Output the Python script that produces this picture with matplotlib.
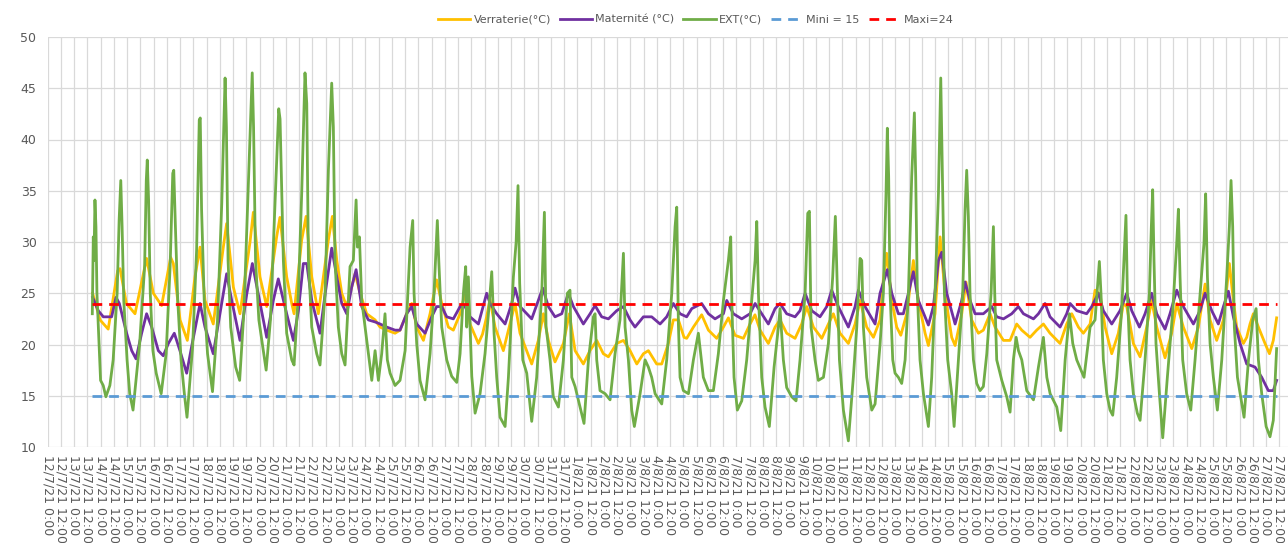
import numpy as np
import matplotlib
matplotlib.use("Agg")
import matplotlib.pyplot as plt
import matplotlib.dates as mdates
from matplotlib.ticker import FuncFormatter

# ---------------- data (time = hours since 12/7/2021 00:00) ----------------
ext_time_h = [40.5, 41.4, 42.0, 42.9, 43.8, 44.7, 48.0, 50.4, 52.8, 56.4, 59.4, 63.0, 64.8, 66.3, 67.5, 69.0, 72.0, 74.4, 77.4,
              83.4, 87.9, 89.4, 90.3, 91.5, 93.0, 95.4, 98.4, 102.9, 107.4, 111.0, 113.4, 114.3, 115.8, 117.9, 120.9, 123.9,
              126.3, 131.4, 135.0, 137.4, 138.3, 139.5, 141.9, 144.9, 149.4, 153.9, 157.8, 160.8, 162.0, 163.5, 165.9, 170.4,
              174.0, 177.9, 181.8, 185.4, 186.6, 188.4, 191.4, 195.9, 198.0, 201.9, 206.4, 209.4, 210.6, 213.6, 216.6, 221.2,
              223.3, 227.2, 230.2, 233.2, 234.8, 236.3, 239.3, 243.8, 246.8, 251.4, 254.4, 257.4, 258.9, 260.4, 263.4, 266.5,
              269.5, 274.0, 277.0, 279.5, 280.7, 282.5, 284.6, 287.6, 290.6, 293.7, 296.7, 299.7, 302.7, 305.7, 307.8, 310.3,
              314.8, 319.3, 323.9, 328.4, 330.8, 332.0, 334.4, 337.4, 342.0, 346.5, 350.1, 353.1, 354.4, 357.1, 361.6, 366.1,
              370.7, 373.7, 376.7, 378.8, 379.7, 381.2, 384.3, 387.3, 391.8, 396.3, 399.4, 402.4, 404.5, 406.9, 409.9, 414.5,
              417.5, 422.0, 424.5, 426.2, 427.7, 430.5, 434.1, 438.6, 443.1, 447.7, 450.1, 451.6, 455.2, 458.2, 462.8, 467.3,
              470.9, 473.3, 474.9, 477.9, 482.4, 486.0, 490.0, 494.5, 496.0, 497.5, 500.5, 505.1, 509.6, 514.1, 518.6, 521.7,
              523.2, 526.2, 529.2, 531.6, 536.8, 541.3, 544.3, 547.3, 550.4, 556.4, 560.9, 565.5, 568.5, 570.0, 571.5, 573.0,
              576.0, 580.6, 585.1, 589.6, 591.7, 594.1, 598.7, 603.2, 607.7, 612.3, 616.8, 618.9, 620.1, 621.9, 624.9, 628.9,
              633.4, 637.9, 641.0, 642.5, 644.0, 647.0, 650.0, 653.9, 658.2, 662.1, 663.6, 666.6, 669.6, 674.2, 678.1, 681.7,
              686.3, 688.7, 690.2, 691.7, 695.3, 698.3, 702.9, 707.4, 711.3, 713.7, 715.2, 717.4, 721.0, 725.5, 730.0, 733.1,
              736.1, 737.6, 739.1, 742.1, 746.7, 749.7, 754.2, 757.2, 759.6, 760.8, 762.0, 763.3, 765.7, 767.8, 770.8, 773.8,
              776.9, 779.9, 782.9, 785.3, 786.5, 788.0, 790.4, 793.5, 798.0, 801.0, 804.0, 807.1, 809.2, 810.7, 812.5, 815.5,
              819.1, 821.3, 825.2, 829.1, 831.2, 832.7, 834.2, 835.7, 838.8, 841.8, 844.8, 847.8, 850.9, 854.8, 856.9, 858.1,
              859.9, 864.5, 869.0, 872.0, 875.0, 877.5, 879.6, 882.6, 887.1, 893.2, 897.7, 902.2, 905.3, 908.3, 914.3, 917.9,
              921.9, 925.8, 928.8, 932.4, 939.0, 944.5, 949.0, 952.0, 952.9, 954.4, 956.5, 959.6, 962.6, 965.0, 968.6, 973.1,
              975.5, 977.0, 978.3, 980.7, 983.7, 987.3, 989.8, 994.3, 998.2, 1000.0, 1001.2, 1002.4, 1004.2, 1007.3, 1010.3,
              1014.5, 1019.4, 1023.0, 1024.5, 1026.0, 1028.4, 1032.0, 1035.7, 1039.6, 1044.1, 1047.7, 1049.2, 1050.8, 1053.2,
              1056.2, 1059.8, 1063.8, 1068.3, 1070.7, 1072.2, 1073.7, 1075.2, 1078.0, 1082.0, 1084.0, 1088.0, 1091.9, 1094.9,
              1097.0, 1100.0, 1104.0, 1107.5, 1110.5, 1113.5]
ext_temp = [23.0, 30.5, 28.2, 34.1, 31.5, 25.0, 16.5, 16.0, 14.9, 16.0, 18.5, 25.0, 32.1, 36.0, 31.5, 24.3, 18.5, 15.2, 13.6,
            20.1, 27.6, 36.0, 38.0, 34.1, 25.0, 19.4, 17.2, 15.2, 19.1, 27.6, 36.7, 37.0, 31.5, 24.3, 18.5, 15.2,
            12.9, 19.8, 29.2, 41.9, 42.1, 33.2, 24.3, 19.1, 15.4, 22.3, 33.8, 46.0, 41.2, 28.2, 21.7, 17.8,
            16.5, 23.3, 35.4, 46.5, 41.2, 28.2, 22.4, 19.1, 17.5, 22.4, 34.7, 43.0, 42.0, 28.2, 21.1, 18.5,
            18.0, 25.0, 34.7, 46.5, 43.5, 28.2, 21.7, 19.1, 18.0, 25.0, 37.0, 45.5, 41.2, 28.2, 21.7, 19.1,
            18.0, 27.6, 28.2, 34.1, 29.5, 30.5, 24.3, 21.7, 19.1, 16.5, 19.4, 16.5, 19.1, 23.0, 18.5, 17.2,
            16.0, 16.5, 19.4, 29.5, 32.1, 25.0, 20.1, 16.5, 14.6, 19.1, 25.0, 32.1, 28.2, 21.7, 18.5, 16.9,
            16.3, 19.1, 25.0, 27.6, 21.7, 26.6, 16.9, 13.3, 15.2, 19.1, 23.0, 27.1, 21.1, 16.8, 12.9, 12.0,
            16.8, 26.6, 30.0, 35.5, 26.0, 18.5, 17.2, 12.5, 16.8, 25.0, 32.9, 21.7, 18.5, 14.9, 13.9, 18.5,
            25.0, 25.3, 16.8, 15.9, 13.9, 12.3, 18.5, 22.7, 23.0, 18.5, 15.5, 15.2, 14.6, 19.1, 22.4, 28.9,
            21.7, 18.5, 13.6, 12.0, 15.2, 18.5, 17.8, 16.8, 15.2, 14.2, 18.5, 25.0, 31.5, 33.4, 22.0, 16.8,
            15.5, 15.2, 18.5, 21.1, 19.1, 16.8, 15.5, 15.5, 19.1, 24.3, 28.2, 30.5, 23.3, 16.8, 13.6, 14.5,
            18.5, 24.3, 28.2, 32.0, 25.0, 16.8, 13.9, 12.0, 17.8, 21.7, 23.5, 18.5, 15.8, 14.9, 14.5, 18.5,
            25.0, 32.8, 33.0, 21.7, 18.5, 16.5, 16.8, 20.1, 26.6, 32.5, 26.6, 18.5, 13.6, 10.6, 16.8, 21.7,
            28.4, 28.2, 21.7, 16.8, 13.6, 14.2, 20.0, 25.0, 34.7, 41.1, 36.4, 25.0, 18.5, 17.2, 16.8, 16.2,
            18.5, 25.0, 36.4, 42.6, 36.4, 25.0, 18.5, 15.2, 12.0, 16.8, 25.0, 34.7, 46.0, 36.4, 25.0, 18.5,
            15.2, 12.0, 18.5, 25.0, 33.1, 37.0, 32.5, 25.0, 18.5, 16.2, 15.5, 15.9, 19.1, 25.0, 31.5, 25.0,
            18.5, 16.5, 14.9, 13.4, 18.5, 20.7, 19.4, 18.5, 15.5, 14.6, 17.8, 20.7, 16.8, 15.2, 13.9, 11.6,
            18.5, 23.0, 20.1, 18.5, 16.8, 21.7, 22.4, 26.9, 28.1, 24.9, 18.5, 15.2, 13.6, 13.1, 16.8, 23.3,
            28.9, 32.6, 24.9, 18.5, 15.2, 13.3, 12.6, 18.5, 24.9, 31.5, 35.1, 28.2, 20.1, 15.2, 10.9,
            16.8, 23.3, 29.9, 33.2, 26.6, 18.5, 15.2, 13.6, 18.5, 24.9, 29.9, 34.7, 26.6, 20.1,
            16.8, 13.6, 18.5, 26.6, 31.5, 36.0, 31.5, 21.7, 16.8, 14.2, 12.9, 18.5, 22.4, 23.5,
            18.5, 15.2, 12.0, 11.0, 12.6, 19.6]

verr_time_h = [40.8, 47.5, 54.9, 63.5, 65.6, 71.4, 79.2, 89.7, 95.8, 103.3, 111.5, 113.9, 120.0, 126.6, 133.5, 138.1, 142.6,
               150.1, 159.2, 162.2, 168.3, 174.3, 183.4, 186.4, 192.4, 198.5, 207.5, 210.5, 216.6, 221.2, 223.3, 230.2,
               234.2, 239.3, 245.3, 254.4, 258.0, 262.0, 266.5, 271.0, 275.5, 278.6, 283.1, 289.1, 296.7, 301.2, 307.2,
               314.8, 319.3, 325.3, 329.9, 334.4, 340.5, 346.5, 352.5, 357.1, 363.1, 367.6, 373.7, 378.2, 382.7, 390.3,
               394.0, 397.8, 400.8, 405.4, 412.9, 418.9, 423.5, 428.0, 438.6, 444.6, 449.2, 453.7, 459.7, 467.3, 472.7,
               477.9, 485.4, 491.4, 497.5, 503.5, 508.1, 515.6, 521.7, 527.7, 533.8, 539.8, 544.3, 551.8, 556.4, 562.4,
               566.9, 571.5, 576.6, 579.0, 585.1, 592.6, 598.7, 606.2, 612.3, 616.8, 622.8, 630.4, 636.4, 640.9, 645.5,
               653.0, 659.1, 663.6, 669.6, 677.2, 683.2, 687.8, 693.8, 701.4, 707.4, 711.9, 717.9, 725.5, 731.6, 736.1,
               742.1, 748.2, 754.2, 757.2, 760.2, 764.8, 769.3, 773.0, 778.4, 784.4, 788.9, 795.0, 798.0, 804.0, 808.6,
               813.1, 819.1, 822.2, 828.2, 832.1, 837.2, 843.3, 847.8, 853.9, 858.4, 866.0, 872.0, 878.0, 882.6, 890.1,
               896.1, 902.2, 908.2, 917.3, 923.3, 927.9, 933.9, 938.4, 944.5, 949.0, 953.5, 958.1, 964.1, 970.1, 974.7,
               977.7, 983.7, 989.8, 995.8, 1000.3, 1004.9, 1012.4, 1018.4, 1023.0, 1029.0, 1036.6, 1042.6, 1048.7,
               1053.2, 1059.2, 1065.3, 1070.7, 1073.7, 1077.3, 1083.4, 1086.4, 1089.4, 1092.4, 1097.0, 1103.0, 1107.0,
               1110.5, 1113.5]
verr_temp = [25.0, 22.4, 21.5, 27.2, 27.4, 24.0, 23.0, 28.4, 25.0, 23.8, 28.5, 27.9, 22.4, 20.4, 26.6, 29.5, 24.3,
             22.0, 29.5, 31.8, 25.6, 23.0, 30.0, 32.9, 26.6, 23.7, 30.5, 32.4, 26.6, 24.0, 23.0, 30.2,
             32.5, 26.6, 23.0, 30.2, 32.5, 28.2, 25.0, 23.7, 25.6, 26.9, 25.0, 23.0, 22.4, 21.7, 21.4,
             21.1, 21.4, 23.0, 24.0, 21.7, 20.4, 23.0, 26.3, 24.0, 21.7, 21.4, 23.0, 25.0, 22.0, 20.1,
             21.0, 22.7, 24.4, 21.7, 19.4, 22.0, 24.0, 21.1, 18.1, 20.4, 23.0, 20.4, 18.3, 20.1, 23.0,
             19.4, 18.1, 19.4, 20.4, 19.1, 18.8, 20.1, 20.4, 19.4, 18.1, 19.1, 19.4, 18.1, 18.1, 20.1,
             22.4, 22.4, 20.7, 20.6, 21.7, 22.9, 21.4, 20.6, 21.7, 22.6, 20.9, 20.6, 22.0, 22.9, 21.4,
             20.1, 21.7, 22.4, 21.1, 20.6, 22.0, 23.7, 21.7, 20.6, 22.0, 23.0, 21.1, 20.1, 22.0, 24.3,
             21.7, 20.7, 22.4, 26.3, 28.9, 24.3, 21.7, 20.9, 23.0, 28.2, 24.3, 21.1, 19.9, 23.0, 30.5,
             24.9, 20.7, 19.9, 23.0, 26.1, 22.4, 21.1, 21.4, 23.0, 21.7, 20.4, 20.4, 22.0, 21.4, 20.7,
             21.4, 22.0, 21.1, 20.1, 22.0, 23.0, 21.7, 21.1, 22.0, 25.3, 24.9, 21.7, 19.1, 21.1, 24.0,
             23.7, 20.1, 18.8, 21.7, 24.3, 21.7, 18.7, 21.1, 24.0, 21.7, 19.6, 21.7, 25.9,
             22.4, 20.4, 22.4, 27.9, 24.9, 21.7, 20.1, 20.7, 22.0, 23.0, 21.7, 20.1, 19.1,
             20.4, 22.6]

mat_time_h = [40.8, 45.9, 50.5, 58.0, 62.0, 65.0, 71.6, 76.2, 80.1, 85.2, 89.7, 94.3, 100.3, 104.8, 109.4, 114.8, 119.9,
              126.0, 130.5, 138.1, 142.6, 150.1, 156.2, 162.2, 166.8, 174.3, 180.4, 185.5, 190.9, 198.5, 204.5, 209.0,
              216.6, 222.7, 227.2, 231.7, 234.8, 239.3, 246.8, 251.4, 257.4, 262.0, 266.5, 271.0, 275.5, 279.5, 284.6,
              290.6, 296.7, 301.2, 307.2, 314.8, 319.3, 325.3, 329.9, 334.4, 342.0, 348.0, 352.5, 357.1, 361.6, 367.6,
              373.7, 378.2, 382.7, 390.3, 397.8, 400.9, 406.9, 414.5, 420.5, 423.5, 428.0, 438.6, 444.6, 448.6, 453.7,
              459.7, 465.8, 471.8, 476.4, 485.4, 491.5, 496.0, 502.0, 508.1, 515.6, 521.7, 527.7, 532.2, 539.8, 547.3,
              554.9, 560.9, 566.9, 573.0, 579.0, 583.6, 592.6, 598.7, 604.7, 612.3, 615.3, 621.3, 628.9, 636.4, 641.0,
              647.0, 653.0, 659.1, 663.6, 669.6, 677.2, 681.7, 686.3, 692.3, 699.8, 705.9, 710.4, 716.4, 725.5, 731.6,
              734.6, 740.6, 749.7, 754.2, 760.8, 764.8, 770.8, 775.3, 779.9, 784.4, 788.9, 798.0, 802.5, 807.1, 810.1,
              814.6, 822.2, 828.2, 831.2, 835.7, 840.3, 847.8, 855.4, 859.9, 866.0, 873.5, 879.5, 884.1, 893.2, 897.7,
              903.7, 908.2, 917.3, 923.3, 926.4, 932.4, 941.4, 946.0, 952.0, 956.5, 964.1, 971.6, 977.7, 982.2, 989.2,
              994.3, 1000.3, 1004.9, 1012.4, 1016.9, 1023.0, 1029.0, 1038.1, 1044.1, 1048.7, 1054.7, 1060.7, 1065.3,
              1069.8, 1074.3, 1080.4, 1086.4, 1093.9, 1100.0, 1106.0, 1110.5, 1113.5]
mat_temp = [24.6, 23.3, 22.7, 22.7, 24.6, 24.0, 21.1, 19.4, 18.6, 21.1, 23.0, 21.7, 19.4, 18.9, 20.1, 21.1, 19.4,
            17.2, 19.8, 24.0, 21.7, 19.1, 23.0, 26.9, 24.3, 20.4, 24.9, 27.9, 24.9, 20.7, 24.3, 26.4,
            23.0, 20.4, 23.3, 27.9, 27.9, 24.3, 21.1, 24.9, 29.4, 26.6, 24.0, 23.0, 25.6, 27.3, 23.7,
            22.4, 22.2, 22.0, 21.7, 21.4, 21.4, 23.0, 23.7, 22.0, 21.1, 22.7, 23.7, 23.7, 22.7, 22.5,
            23.7, 23.7, 22.7, 22.0, 25.0, 24.0, 23.0, 22.0, 24.0, 25.5, 23.7, 22.5, 24.3, 25.5, 23.7,
            22.7, 23.0, 25.0, 23.7, 22.0, 23.0, 23.8, 22.7, 22.5, 23.3, 23.7, 22.4, 21.7, 22.7, 22.7,
            22.0, 22.7, 24.0, 23.0, 22.7, 23.5, 24.0, 23.0, 22.5, 23.0, 24.3, 23.0, 22.5, 23.0, 24.0,
            23.0, 22.0, 23.5, 24.0, 23.0, 22.7, 23.3, 25.0, 23.3, 22.7, 23.7, 25.3, 23.7, 21.7, 23.7,
            25.3, 23.7, 22.0, 25.0, 27.3, 25.0, 23.0, 23.0, 25.0, 27.1, 24.3, 21.9, 23.7, 28.2, 29.0,
            25.0, 22.0, 24.3, 26.1, 24.3, 23.0, 23.0, 23.7, 22.7, 22.5, 23.0, 23.7, 23.0, 22.5, 23.0,
            24.0, 22.7, 21.7, 23.0, 24.0, 23.3, 23.0, 23.7, 25.0, 23.3, 22.0, 23.3, 25.0, 23.3, 21.7,
            23.0, 25.0, 23.0, 21.5, 23.0, 25.3, 23.7, 22.0, 23.3, 25.0, 23.3, 22.0, 23.7,
            25.2, 22.7, 20.1, 18.1, 17.8, 16.8, 15.5, 15.5, 16.5]

mini_value = 15
maxi_value = 24
series_labels = ["Verraterie(°C)", "Maternité (°C)", "EXT(°C)", "Mini = 15", "Maxi=24"]
y_ticks = [10, 15, 20, 25, 30, 35, 40, 45, 50]

# ---------------- helpers ----------------
START = np.datetime64("2021-07-12T00:00")


def to_dt(hours):
    minutes = np.round(np.asarray(hours, dtype=float) * 60).astype(int)
    return START + minutes.astype("timedelta64[m]")


W, H = 1288, 543
fig = plt.figure(figsize=(W / 100, H / 100), dpi=100)
fig.patch.set_facecolor("white")

left_px, top_px, bottom_px = 47.6, 37, 447
px_per_day = 26.49
n_days = 47.5
ax = fig.add_axes([left_px / W, (H - bottom_px) / H, n_days * px_per_day / W, (bottom_px - top_px) / H])

grey_txt = "#595959"
grid_col = "#D9D9D9"

t_ext = to_dt(ext_time_h)
t_verr = to_dt(verr_time_h)
t_mat = to_dt(mat_time_h)

lw = 2.0
l1, = ax.plot(t_verr, verr_temp, color="#FFC000", lw=lw, solid_joinstyle="round", label=series_labels[0], zorder=3)
l2, = ax.plot(t_mat, mat_temp, color="#7030A0", lw=lw, solid_joinstyle="round", label=series_labels[1], zorder=4)
l3, = ax.plot(t_ext, ext_temp, color="#70AD47", lw=lw, solid_joinstyle="round", label=series_labels[2], zorder=5)
span = [t_ext[0], t_ext[-1]]
l4, = ax.plot(span, [mini_value, mini_value], color="#5B9BD5", lw=lw, dashes=(3.5, 2.5), label=series_labels[3], zorder=6)
l5, = ax.plot(span, [maxi_value, maxi_value], color="#FF0000", lw=lw, dashes=(3.5, 2.5), label=series_labels[4], zorder=7)

ax.set_xlim(START, START + np.timedelta64(int(n_days * 24), "h"))
ax.set_ylim(10, 50)
ax.set_yticks(y_ticks)

ax.xaxis.set_major_locator(mdates.HourLocator(byhour=[0, 12]))


def fmt(x, pos=None):
    d = mdates.num2date(x)
    return f"{d.day}/{d.month}/{d:%y} {d.hour}:{d:%M}"


ax.xaxis.set_major_formatter(FuncFormatter(fmt))
ax.grid(True, color=grid_col, lw=0.9, zorder=0)
ax.set_axisbelow(True)
for s in ax.spines.values():
    s.set_visible(False)
ax.tick_params(axis="both", length=0, colors=grey_txt)
ax.tick_params(axis="y", labelsize=9, pad=8)
ax.tick_params(axis="x", labelsize=9, pad=6, labelrotation=270)
for lab in ax.get_xticklabels():
    lab.set_horizontalalignment("center")
    lab.set_verticalalignment("top")

leg = fig.legend(handles=[l1, l2, l3, l4, l5], loc="center", bbox_to_anchor=(696 / W, 1 - 20 / H),
                 ncol=5, frameon=False, fontsize=8, handlelength=2.9, handletextpad=0.3, columnspacing=0.8,
                 labelcolor=grey_txt)

fig.savefig("out.png", dpi=100, facecolor="white")
